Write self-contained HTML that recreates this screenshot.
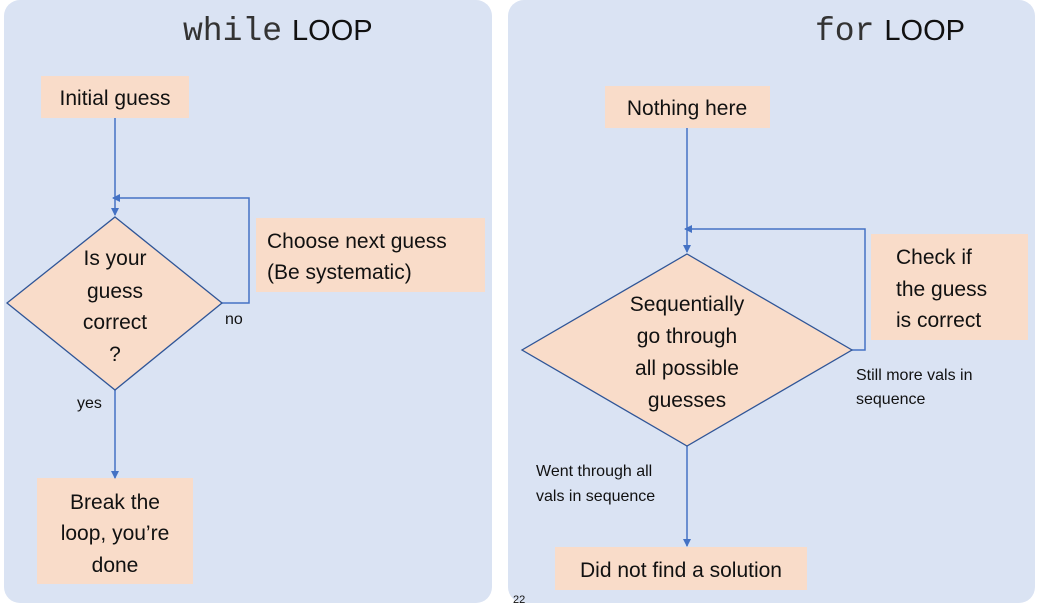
<!DOCTYPE html>
<html><head><style>body{margin:0;background:#fff;position:relative;width:1043px;height:611px;overflow:hidden}svg{display:block;position:absolute;left:0;top:0}.s{font-family:"Liberation Sans",sans-serif;fill:#111}
.t{position:absolute;top:13px;line-height:36px;color:#222;white-space:nowrap}
.t .mo{font-family:"Liberation Mono",monospace;font-size:33px;color:#333}.t .sa{font-family:"Liberation Sans",Arial,sans-serif;margin-left:10px;font-size:29px;color:#111}</style></head>
<body>
<svg width="1043" height="611" viewBox="0 0 1043 611" xmlns="http://www.w3.org/2000/svg">
<defs><marker id="a" markerWidth="8" markerHeight="8" refX="7" refY="4" orient="auto" markerUnits="userSpaceOnUse"><path d="M0,0 L8,4 L0,8 z" fill="#4472c4"/></marker></defs>
<rect x="4" y="0" width="488" height="603" rx="16" fill="#dae3f3"/>
<rect x="508" y="0" width="527" height="603" rx="16" fill="#dae3f3"/>
<g fill="#f9dcc9">
<rect x="41" y="76" width="148" height="42"/>
<rect x="256" y="218" width="229" height="74"/>
<rect x="37" y="478" width="156" height="106"/>
<rect x="605" y="86" width="165" height="42"/>
<rect x="871" y="234" width="157" height="106"/>
<rect x="555" y="547" width="252" height="43"/>
</g>
<g stroke="#4472c4" stroke-width="1.5" fill="none">
<line x1="115" y1="118" x2="115" y2="215" marker-end="url(#a)"/>
<polyline points="222,303 249,303 249,198 113,198" marker-end="url(#a)"/>
<line x1="115" y1="390" x2="115" y2="478" marker-end="url(#a)"/>
<line x1="687" y1="128" x2="687" y2="252" marker-end="url(#a)"/>
<polyline points="852,350 865,350 865,229 685,229" marker-end="url(#a)"/>
<line x1="687" y1="446" x2="687" y2="546" marker-end="url(#a)"/>
</g>
<polygon points="115,217 222,303 115,390 7,303" fill="#f9dcc9" stroke="#2f5597" stroke-width="1.3"/>
<polygon points="687,254 852,350 687,446 522,350" fill="#f9dcc9" stroke="#2f5597" stroke-width="1.3"/>
<g class="s" font-size="21" text-anchor="middle">
<text x="115" y="105">Initial guess</text>
<text x="115" y="265">Is your</text>
<text x="115" y="298">guess</text>
<text x="115" y="329">correct</text>
<text x="115" y="361">?</text>
<text x="115" y="509">Break the</text>
<text x="115" y="540">loop, you’re</text>
<text x="115" y="572">done</text>
<text x="687" y="115">Nothing here</text>
<text x="687" y="311">Sequentially</text>
<text x="687" y="343">go through</text>
<text x="687" y="375">all possible</text>
<text x="687" y="407">guesses</text>
<text x="681" y="577">Did not find a solution</text>
</g>
<g class="s" font-size="21">
<text x="267" y="248">Choose next guess</text>
<text x="267" y="279">(Be systematic)</text>
<text x="896" y="264">Check if</text>
<text x="896" y="296">the guess</text>
<text x="896" y="327">is correct</text>
</g>
<g class="s" font-size="16">
<text x="225" y="324">no</text>
<text x="77" y="408">yes</text>
<text x="856" y="380">Still more vals in</text>
<text x="856" y="404">sequence</text>
<text x="536" y="476">Went through all</text>
<text x="536" y="501">vals in sequence</text>
</g>
<text x="513" y="603" class="s" font-size="11">22</text>
</svg>
<div class="t" style="left:183px"><span class="mo">while</span><span class="sa">LOOP</span></div>
<div class="t" style="left:815px"><span class="mo">for</span><span class="sa">LOOP</span></div>
</body></html>
